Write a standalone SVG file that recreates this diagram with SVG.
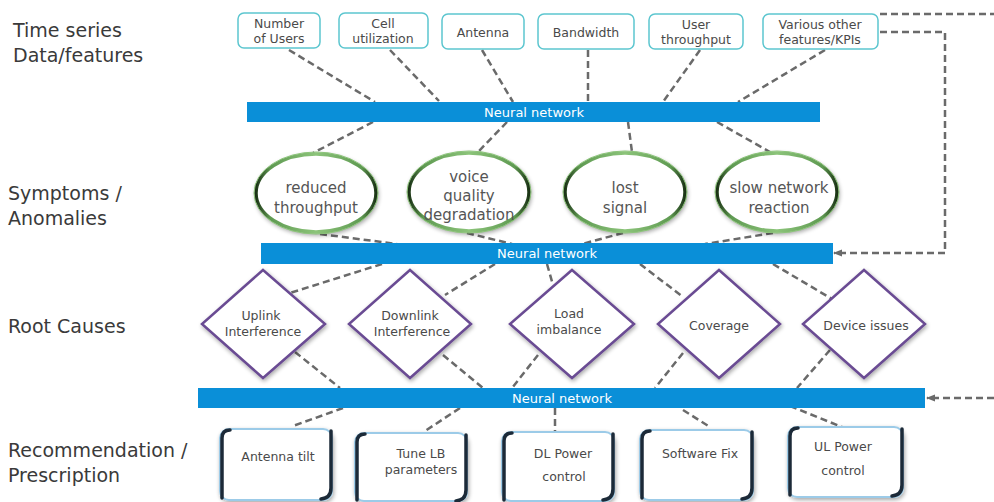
<svg xmlns="http://www.w3.org/2000/svg" width="994" height="502" viewBox="0 0 994 502">
  <defs>
    <style>
      .lbl { font-family: "DejaVu Sans", "Open Sans", sans-serif; font-size: 19px; fill: #3a3a3a; }
      .t13 { font-family: "DejaVu Sans", "Open Sans", sans-serif; font-size: 12.5px; fill: #4a4a4a; text-anchor: middle; }
      .t15 { font-family: "DejaVu Sans", "Open Sans", sans-serif; font-size: 15px; fill: #555; text-anchor: middle; }
      .nn { font-family: "DejaVu Sans", "Open Sans", sans-serif; font-size: 13px; fill: #ffffff; text-anchor: middle; }
      .feat { fill: #ffffff; stroke: #5cc6cf; stroke-width: 1.5; }
      .bar { fill: #0a8fd8; }
      .dash { fill: none; stroke: #6a6a6a; stroke-width: 2.5; stroke-dasharray: 7 4; }
      .sym { fill: #ffffff; stroke: url(#ringGrad); stroke-width: 3.5; filter: url(#shadow); }
      .symOuter { fill: none; stroke: #8cc47a; stroke-width: 1; }
      .cause { fill: #ffffff; stroke: #6a4c93; stroke-width: 2.5; filter: url(#shadow); }
      .rec { fill: #ffffff; stroke: #9ccbe8; stroke-width: 2; filter: url(#shadow); }
      .recEdge { fill: none; stroke: #1c2a38; stroke-width: 3.5; stroke-linecap: round; }
    </style>
    <linearGradient id="ringGrad" x1="0" y1="0" x2="1" y2="0">
      <stop offset="0" stop-color="#1c3316"/>
      <stop offset="0.12" stop-color="#5f9a52"/>
      <stop offset="0.5" stop-color="#8cc47a"/>
      <stop offset="0.88" stop-color="#5f9a52"/>
      <stop offset="1" stop-color="#1c3316"/>
    </linearGradient>
    <filter id="shadow" x="-20%" y="-20%" width="140%" height="140%">
      <feGaussianBlur in="SourceAlpha" stdDeviation="2"/>
      <feOffset dx="1" dy="2" result="b"/>
      <feComponentTransfer><feFuncA type="linear" slope="0.35"/></feComponentTransfer>
      <feMerge><feMergeNode/><feMergeNode in="SourceGraphic"/></feMerge>
    </filter>
    <marker id="arrow" markerWidth="9" markerHeight="9" refX="8" refY="4.5" orient="auto" markerUnits="userSpaceOnUse">
      <path d="M0,1 L9,4.5 L0,8 Z" fill="#6a6a6a"/>
    </marker>
  </defs>

  <!-- row labels -->
  <g id="row-labels">
    <text class="lbl" x="13" y="37">Time series</text>
    <text class="lbl" x="13" y="62">Data/features</text>
    <text class="lbl" x="8" y="200">Symptoms /</text>
    <text class="lbl" x="8" y="225">Anomalies</text>
    <text class="lbl" x="8" y="333">Root Causes</text>
    <text class="lbl" x="8" y="457">Recommendation /</text>
    <text class="lbl" x="8" y="482">Prescription</text>
  </g>

  <!-- connectors -->
  <g id="connectors">
    <!-- features to first network -->
    <path class="dash" d="M289,50 L375,102"/>
    <path class="dash" d="M390,50 L439,101"/>
    <path class="dash" d="M482,50 L513,102"/>
    <path class="dash" d="M588,50 L588,102"/>
    <path class="dash" d="M700,50 L663,102"/>
    <path class="dash" d="M825,50 L738,102"/>
    <!-- first network to symptoms -->
    <path class="dash" d="M373,122 L313,153"/>
    <path class="dash" d="M507,122 L478,152"/>
    <path class="dash" d="M628,122 L632,152"/>
    <path class="dash" d="M717,122 L770,152"/>
    <!-- symptoms to second network -->
    <path class="dash" d="M320,234 L397,244"/>
    <path class="dash" d="M467,233 L512,244"/>
    <path class="dash" d="M623,233 L582,244"/>
    <path class="dash" d="M773,233 L705,244"/>
    <!-- second network to causes -->
    <path class="dash" d="M382,264 L290,293"/>
    <path class="dash" d="M495,264 L445,295"/>
    <path class="dash" d="M547,264 L553,285"/>
    <path class="dash" d="M640,264 L683,297"/>
    <path class="dash" d="M773,264 L832,299"/>
    <!-- causes to third network -->
    <path class="dash" d="M295,352 L340,388"/>
    <path class="dash" d="M443,355 L483,388"/>
    <path class="dash" d="M538,355 L512,388"/>
    <path class="dash" d="M683,353 L655,388"/>
    <path class="dash" d="M830,350 L797,388"/>
    <!-- third network to recommendations -->
    <path class="dash" d="M343,408 L293,426"/>
    <path class="dash" d="M460,408 L425,431"/>
    <path class="dash" d="M555,408 L555,432"/>
    <path class="dash" d="M683,410 L710,427"/>
    <path class="dash" d="M790,406 L842,427"/>
    <!-- feedback paths -->
    <path class="dash" d="M880,14 L994,14"/>
    <path class="dash" d="M880,32 L945,32 L945,253 L834,253" marker-end="url(#arrow)"/>
    <path class="dash" d="M994,398 L927,398" marker-end="url(#arrow)"/>
  </g>

  <!-- feature nodes -->
  <g id="feat-users"><rect class="feat" x="238" y="13" width="82" height="35" rx="6"/><text class="t13" x="279" y="28">Number</text><text class="t13" x="279" y="43">of Users</text></g>
  <g id="feat-cell"><rect class="feat" x="339" y="13" width="89" height="35" rx="6"/><text class="t13" x="383" y="28">Cell</text><text class="t13" x="383" y="43">utilization</text></g>
  <g id="feat-antenna"><rect class="feat" x="442" y="14" width="82" height="35" rx="6"/><text class="t13" x="483" y="37">Antenna</text></g>
  <g id="feat-bandwidth"><rect class="feat" x="538" y="14" width="96" height="35" rx="6"/><text class="t13" x="586" y="37">Bandwidth</text></g>
  <g id="feat-throughput"><rect class="feat" x="649" y="14" width="94" height="35" rx="6"/><text class="t13" x="696" y="29">User</text><text class="t13" x="696" y="44">throughput</text></g>
  <g id="feat-other"><rect class="feat" x="763" y="14" width="115" height="35" rx="6"/><text class="t13" x="820" y="29">Various other</text><text class="t13" x="820" y="44">features/KPIs</text></g>

  <!-- neural network layers -->
  <g id="nn-1"><rect class="bar" x="247" y="102" width="573" height="20"/><text class="nn" x="534" y="117">Neural network</text></g>
  <g id="nn-2"><rect class="bar" x="261" y="243" width="572" height="21"/><text class="nn" x="547" y="258">Neural network</text></g>
  <g id="nn-3"><rect class="bar" x="198" y="388" width="727" height="20"/><text class="nn" x="562" y="403">Neural network</text></g>

  <!-- symptom nodes -->
  <g id="sym-throughput"><ellipse class="sym" cx="316" cy="193" rx="60" ry="39"/><ellipse class="symOuter" cx="316" cy="193" rx="62" ry="41"/><text class="t15" x="316" y="193">reduced</text><text class="t15" x="316" y="213">throughput</text></g>
  <g id="sym-voice"><ellipse class="sym" cx="469" cy="192" rx="60" ry="39"/><ellipse class="symOuter" cx="469" cy="192" rx="62" ry="41"/><text class="t15" x="469" y="182">voice</text><text class="t15" x="469" y="201">quality</text><text class="t15" x="469" y="220">degradation</text></g>
  <g id="sym-signal"><ellipse class="sym" cx="625" cy="192" rx="60" ry="39"/><ellipse class="symOuter" cx="625" cy="192" rx="62" ry="41"/><text class="t15" x="625" y="193">lost</text><text class="t15" x="625" y="213">signal</text></g>
  <g id="sym-reaction"><ellipse class="sym" cx="777" cy="192" rx="60" ry="39"/><ellipse class="symOuter" cx="777" cy="192" rx="62" ry="41"/><text class="t15" x="779" y="193">slow network</text><text class="t15" x="779" y="213">reaction</text></g>

  <!-- root cause nodes -->
  <g id="cause-uplink"><path class="cause" d="M263,270 L325,324 L263,378 L202,324 Z"/><text class="t13" x="261" y="320">Uplink</text><text class="t13" x="263" y="336">Interference</text></g>
  <g id="cause-downlink"><path class="cause" d="M410,270 L471,324 L410,378 L349,324 Z"/><text class="t13" x="410" y="320">Downlink</text><text class="t13" x="412" y="336">Interference</text></g>
  <g id="cause-load"><path class="cause" d="M572,270 L634,324 L572,378 L510,324 Z"/><text class="t13" x="569" y="318">Load</text><text class="t13" x="569" y="334">imbalance</text></g>
  <g id="cause-coverage"><path class="cause" d="M719,270 L780,324 L719,378 L658,324 Z"/><text class="t13" x="719" y="330">Coverage</text></g>
  <g id="cause-device"><path class="cause" d="M864,270 L925,324 L864,378 L803,324 Z"/><text class="t13" x="866" y="330">Device issues</text></g>

  <!-- recommendation nodes -->
  <g id="rec-tilt"><rect class="rec" x="220" y="429" width="112" height="71" rx="9"/><path class="recEdge" d="M222,438 Q222,430 230,430 M222,438 L222,498 M331,431 L331,488 Q331,498 321,499"/><text class="t13" x="278" y="461">Antenna tilt</text></g>
  <g id="rec-lb"><rect class="rec" x="355" y="433" width="112" height="68" rx="9"/><path class="recEdge" d="M357,442 Q357,434 365,434 M357,442 L357,500 M466,435 L466,490 Q466,500 456,501"/><text class="t13" x="421" y="458">Tune LB</text><text class="t13" x="421" y="474">parameters</text></g>
  <g id="rec-dl"><rect class="rec" x="502" y="432" width="112" height="69" rx="9"/><path class="recEdge" d="M504,441 Q504,433 512,433 M504,441 L504,500 M613,434 L613,489 Q613,499 603,500"/><text class="t13" x="563" y="458">DL Power</text><text class="t13" x="564" y="481">control</text></g>
  <g id="rec-sw"><rect class="rec" x="640" y="430" width="113" height="70" rx="9"/><path class="recEdge" d="M642,439 Q642,431 650,431 M642,439 L642,498 M752,432 L752,488 Q752,498 742,499"/><text class="t13" x="700" y="458">Software Fix</text></g>
  <g id="rec-ul"><rect class="rec" x="788" y="427" width="115" height="70" rx="9"/><path class="recEdge" d="M790,436 Q790,428 798,428 M790,436 L790,495 M902,429 L902,485 Q902,495 892,496"/><text class="t13" x="843" y="451">UL Power</text><text class="t13" x="843" y="475">control</text></g>
</svg>
